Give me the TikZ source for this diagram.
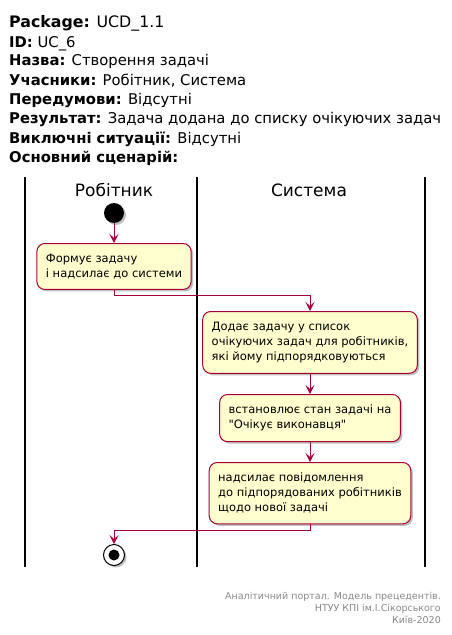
\documentclass[tikz,border=0pt]{standalone}
\usepackage{fontspec}
\setmainfont{DejaVu Sans}
\usepackage{xcolor}
\usetikzlibrary{arrows.meta, shadows}

\definecolor{umlred}{HTML}{A80036}
\definecolor{umlfill}{HTML}{FEFECE}
\definecolor{footgray}{HTML}{888888}

\tikzset{
  umlshadow/.style={drop shadow={shadow xshift=2pt, shadow yshift=-2pt, fill=black, opacity=0.25}},
  action/.style={draw=umlred, fill=umlfill, rounded corners=8pt, line width=1pt,
    align=left, anchor=north, inner xsep=9pt, inner ysep=10.5pt,
    font=\fontsize{11.5}{15}\selectfont, umlshadow},
  flow/.style={umlred, line width=0.8pt, -{Stealth[length=9pt, width=9pt, inset=4pt]}},
  lane/.style={line width=1.3pt},
  hdr/.style={anchor=base west, inner sep=0pt, font=\fontsize{14.8}{17}\selectfont},
  lanetitle/.style={anchor=base, inner sep=0pt, font=\fontsize{17}{20}\selectfont},
}

\begin{document}
\begin{tikzpicture}[x=1pt, y=-1pt]
\useasboundingbox (0,0) rectangle (452,635);

% header
\node[hdr] (pkg) at (9,27) {\fontsize{15.8}{19}\selectfont\textbf{Package:} UCD\_1.1};
\node[hdr] (id) at (9,47) {\textbf{ID:} UC\_6};
\node[hdr] (name) at (9,65) {\textbf{Назва:} Створення задачі};
\node[hdr] (actors) at (9,85) {\textbf{Учасники:} Робітник, Система};
\node[hdr] (pre) at (9,104) {\textbf{Передумови:} Відсутні};
\node[hdr] (res) at (9,123) {\textbf{Результат:} Задача додана до списку очікуючих задач};
\node[hdr] (exc) at (9,143) {\textbf{Виключні ситуації:} Відсутні};
\node[hdr] (main) at (9,162) {\textbf{Основний сценарій:}};

% swimlanes
\foreach \x in {25,197,425}
  \draw[lane] (\x,177) -- (\x,567);
\node[lanetitle] (wrk) at (114,196) {Робітник};
\node[lanetitle] (sys) at (309,196) {Система};

% activities
\node[circle, fill=black, minimum size=20pt, inner sep=0pt, umlshadow] (start) at (114,213) {};
\node[action] (form) at (114,243) {Формує задачу\\і надсилає до системи};
\node[action] (add) at (310,311) {Додає задачу у список\\очікуючих задач для робітників,\\які йому підпорядковуються};
\node[action] (state) at (310,394) {встановлює стан задачі на\\\textquotedbl Очікує виконавця\textquotedbl};
\node[action] (notify) at (310,462) {надсилає повідомлення\\до підпорядованих робітників\\щодо нової задачі};
\node[circle, draw=black, fill=white, line width=1pt, minimum size=21pt, inner sep=0pt, umlshadow] (stop) at (114,555) {};
\fill (stop) circle (5.5pt);

\draw[flow] (start) -- (form);
\draw[flow] (form.south) -- ++(0,5) -| (add.north);
\draw[flow] (add) -- (state);
\draw[flow] (state) -- (notify);
\draw[flow] (notify.south) -- ++(0,6) -| (stop.north);

% footer
\node[anchor=base east, align=right, inner sep=0pt, text=footgray,
  font=\fontsize{9.5}{12}\selectfont] (foot) at (441,623)
  {Аналітичний портал. Модель прецедентів.\\НТУУ КПІ ім.І.Сікорського\\Київ-2020};
\end{tikzpicture}
\end{document}
